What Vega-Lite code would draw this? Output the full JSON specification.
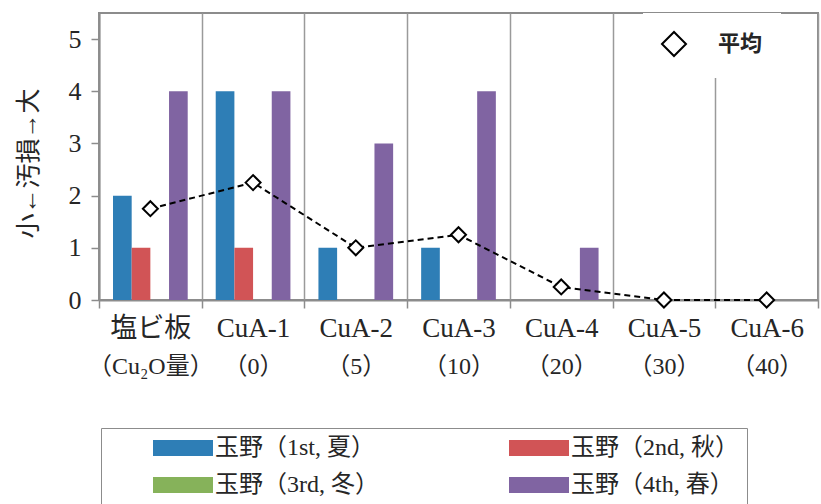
{
  "$schema": "https://vega.github.io/schema/vega-lite/v6.json",
  "width": 719,
  "height": 287,
  "padding": {"left": 16, "top": 13, "right": 3, "bottom": 0},
  "autosize": {"type": "pad"},
  "config": {
    "view": {"stroke": "#8c8c8c", "strokeWidth": 2},
    "font": "Liberation Serif, Noto Sans CJK JP",
    "axis": {
      "domainColor": "#8c8c8c",
      "domainWidth": 2,
      "tickColor": "#8c8c8c",
      "tickWidth": 1.5,
      "labelColor": "#262626",
      "titleColor": "#262626",
      "labelFont": "Liberation Serif, Noto Sans CJK JP",
      "titleFont": "Liberation Serif, Noto Sans CJK JP"
    },
    "legend": {"labelColor": "#262626"}
  },
  "datasets": {
    "scores": [
      {"cat": "塩ビ板", "series": "玉野（1st, 夏）", "score": 2},
      {"cat": "塩ビ板", "series": "玉野（2nd, 秋）", "score": 1},
      {"cat": "塩ビ板", "series": "玉野（3rd, 冬）", "score": 0},
      {"cat": "塩ビ板", "series": "玉野（4th, 春）", "score": 4},
      {"cat": "CuA-1", "series": "玉野（1st, 夏）", "score": 4},
      {"cat": "CuA-1", "series": "玉野（2nd, 秋）", "score": 1},
      {"cat": "CuA-1", "series": "玉野（3rd, 冬）", "score": 0},
      {"cat": "CuA-1", "series": "玉野（4th, 春）", "score": 4},
      {"cat": "CuA-2", "series": "玉野（1st, 夏）", "score": 1},
      {"cat": "CuA-2", "series": "玉野（2nd, 秋）", "score": 0},
      {"cat": "CuA-2", "series": "玉野（3rd, 冬）", "score": 0},
      {"cat": "CuA-2", "series": "玉野（4th, 春）", "score": 3},
      {"cat": "CuA-3", "series": "玉野（1st, 夏）", "score": 1},
      {"cat": "CuA-3", "series": "玉野（2nd, 秋）", "score": 0},
      {"cat": "CuA-3", "series": "玉野（3rd, 冬）", "score": 0},
      {"cat": "CuA-3", "series": "玉野（4th, 春）", "score": 4},
      {"cat": "CuA-4", "series": "玉野（1st, 夏）", "score": 0},
      {"cat": "CuA-4", "series": "玉野（2nd, 秋）", "score": 0},
      {"cat": "CuA-4", "series": "玉野（3rd, 冬）", "score": 0},
      {"cat": "CuA-4", "series": "玉野（4th, 春）", "score": 1},
      {"cat": "CuA-5", "series": "玉野（1st, 夏）", "score": 0},
      {"cat": "CuA-5", "series": "玉野（2nd, 秋）", "score": 0},
      {"cat": "CuA-5", "series": "玉野（3rd, 冬）", "score": 0},
      {"cat": "CuA-5", "series": "玉野（4th, 春）", "score": 0},
      {"cat": "CuA-6", "series": "玉野（1st, 夏）", "score": 0},
      {"cat": "CuA-6", "series": "玉野（2nd, 秋）", "score": 0},
      {"cat": "CuA-6", "series": "玉野（3rd, 冬）", "score": 0},
      {"cat": "CuA-6", "series": "玉野（4th, 春）", "score": 0}
    ],
    "mean": [
      {"cat": "塩ビ板", "sub": "（Cu₂O量）", "kind": "平均", "avg": 1.75},
      {"cat": "CuA-1", "sub": "（0）", "kind": "平均", "avg": 2.25},
      {"cat": "CuA-2", "sub": "（5）", "kind": "平均", "avg": 1},
      {"cat": "CuA-3", "sub": "（10）", "kind": "平均", "avg": 1.25},
      {"cat": "CuA-4", "sub": "（20）", "kind": "平均", "avg": 0.25},
      {"cat": "CuA-5", "sub": "（30）", "kind": "平均", "avg": 0},
      {"cat": "CuA-6", "sub": "（40）", "kind": "平均", "avg": 0}
    ]
  },
  "layer": [
    {
      "data": {"name": "scores"},
      "mark": {"type": "bar"},
      "encoding": {
        "x": {
          "field": "cat",
          "type": "nominal",
          "sort": null,
          "scale": {"paddingInner": 0, "paddingOuter": 0},
          "axis": {
            "title": null,
            "labelAngle": 0,
            "tickBand": "extent",
            "grid": true,
            "gridColor": "#9a9a9a",
            "gridWidth": 1.5,
            "tickSize": 8,
            "labelFontSize": 27,
            "labelPadding": 7
          }
        },
        "xOffset": {
          "field": "series",
          "sort": null,
          "scale": {"paddingInner": 0, "paddingOuter": 0.75}
        },
        "y": {
          "field": "score",
          "type": "quantitative",
          "scale": {"domain": [0, 5.5], "nice": false},
          "axis": {
            "title": "小←汚損→大",
            "titleFontSize": 25,
            "titleFontWeight": "normal",
            "titleX": -71,
            "titleY": 150,
            "titleBaseline": "middle",
            "values": [0, 1, 2, 3, 4, 5],
            "format": "d",
            "grid": false,
            "tickSize": 8,
            "labelFontSize": 26,
            "labelPadding": 10
          }
        },
        "color": {
          "field": "series",
          "type": "nominal",
          "sort": null,
          "scale": {
            "domain": ["玉野（1st, 夏）", "玉野（2nd, 秋）", "玉野（3rd, 冬）", "玉野（4th, 春）"],
            "range": ["#2e7eb6", "#d15456", "#86b25a", "#8064a2"]
          },
          "legend": {
            "title": null,
            "orient": "none",
            "legendX": 2,
            "legendY": 415,
            "columns": 2,
            "direction": "horizontal",
            "symbolType": "M-3,-0.8H3V0.8H-3Z",
            "symbolSize": 400,
            "symbolStrokeWidth": 0,
            "symbolOpacity": 1,
            "symbolOffset": 62,
            "labelOffset": 20,
            "labelFontSize": 24,
            "labelFont": "Liberation Serif, Noto Sans CJK JP",
            "columnPadding": 86,
            "rowPadding": 13,
            "padding": 8,
            "strokeColor": "#8c8c8c",
            "labelLimit": 500
          }
        }
      }
    },
    {
      "data": {"name": "mean"},
      "encoding": {
        "x": {
          "field": "sub",
          "type": "nominal",
          "sort": null,
          "axis": {
            "title": null,
            "orient": "bottom",
            "labelAngle": 0,
            "ticks": false,
            "tickSize": 0,
            "domain": false,
            "grid": false,
            "labelPadding": 54,
            "labelFontSize": 24
          }
        },
        "y": {
          "field": "avg",
          "type": "quantitative",
          "scale": {"domain": [0, 5.5], "nice": false}
        }
      },
      "layer": [
        {"mark": {"type": "line", "color": "black", "strokeWidth": 2, "strokeDash": [6, 4]}},
        {
          "mark": {"type": "point", "shape": "diamond", "filled": false, "fill": "white", "strokeWidth": 2, "size": 225, "opacity": 1},
          "encoding": {
            "stroke": {
              "field": "kind",
              "type": "nominal",
              "scale": {"range": ["black"]},
              "legend": {
                "title": null,
                "orient": "none",
                "legendX": 544,
                "legendY": 0,
                "padding": 18,
                "fillColor": "white",
                "symbolType": "diamond",
                "symbolSize": 576,
                "symbolFillColor": "white",
                "symbolStrokeWidth": 2,
                "symbolOpacity": 1,
                "labelFont": "Noto Sans CJK JP",
                "labelFontWeight": "bold",
                "labelFontSize": 22,
                "labelOffset": 31
              }
            }
          }
        }
      ]
    }
  ],
  "resolve": {"scale": {"x": "independent"}, "axis": {"x": "independent"}}
}
